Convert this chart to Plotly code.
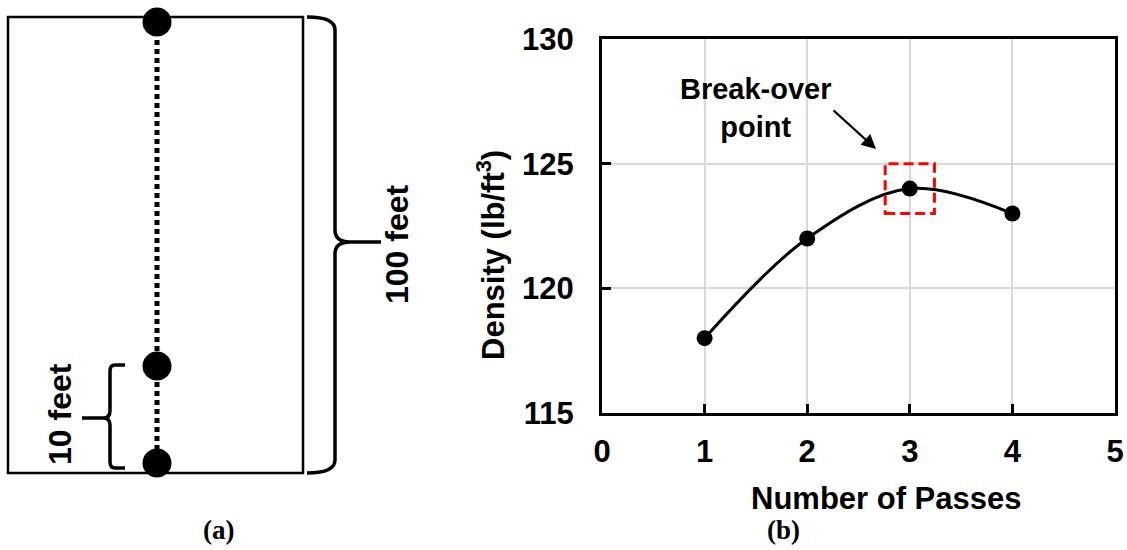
import plotly.graph_objects as go

# ---- Panel (b) data ----
passes = [1, 2, 3, 4]
density = [118, 122, 124, 123]
x_ticks = [0, 1, 2, 3, 4, 5]
y_ticks = [115, 120, 125, 130]
breakover_box_x = [2.76, 3.24]
breakover_box_y = [123, 125]

# ---- Panel (a) schematic (diagram units = canvas pixels) ----
probe_x = [157, 157, 157]
probe_y = [22, 366, 463]
labels_a = ["100 feet", "10 feet"]

W, H = 1127, 550
FONT = "Liberation Sans, Arial, sans-serif"

fig = go.Figure()

# Panel (a): dotted line and probes
fig.add_trace(go.Scatter(
    x=probe_x, y=probe_y, mode="lines",
    line=dict(color="black", width=5, dash="5px,4px"),
    xaxis="x2", yaxis="y2", hoverinfo="skip", showlegend=False))
fig.add_trace(go.Scatter(
    x=probe_x, y=probe_y, mode="markers",
    marker=dict(color="black", size=29),
    xaxis="x2", yaxis="y2", hoverinfo="skip", showlegend=False))

# Panel (b): density curve
fig.add_trace(go.Scatter(
    x=passes, y=density, mode="lines+markers",
    line=dict(color="black", width=3, shape="spline", smoothing=1.0),
    marker=dict(color="black", size=16),
    xaxis="x", yaxis="y", showlegend=False))

x0d, x1d = 602 / W, 1115 / W
y0d, y1d = 1 - 413 / H, 1 - 39 / H

fig.update_layout(
    width=W, height=H,
    margin=dict(l=0, r=0, t=0, b=0, autoexpand=False),
    paper_bgcolor="white", plot_bgcolor="rgba(0,0,0,0)",
    xaxis=dict(
        domain=[x0d, x1d], range=[0, 5], tickvals=x_ticks,
        showgrid=True, gridcolor="#d9d9d9", gridwidth=2,
        showline=True, linecolor="black", linewidth=3, mirror=True,
        ticks="inside", ticklen=9, tickwidth=3, tickcolor="black",
        tickfont=dict(family=FONT, size=31, color="black", weight="bold"),
        ticklabelstandoff=9, zeroline=False, anchor="y", automargin=False),
    yaxis=dict(
        domain=[y0d, y1d], range=[115, 130], tickvals=y_ticks,
        showgrid=True, gridcolor="#d9d9d9", gridwidth=2,
        showline=True, linecolor="black", linewidth=3, mirror=True,
        ticks="inside", ticklen=9, tickwidth=3, tickcolor="black",
        tickfont=dict(family=FONT, size=31, color="black", weight="bold"),
        ticklabelstandoff=19, zeroline=False, anchor="x", automargin=False),
    xaxis2=dict(domain=[0, 1], range=[0, W], visible=False, anchor="y2",
                fixedrange=True, automargin=False),
    yaxis2=dict(domain=[0, 1], range=[H, 0], visible=False, anchor="x2",
                fixedrange=True, automargin=False),
)

# Panel (a) rectangle
fig.add_shape(type="rect", xref="x2", yref="y2", x0=8, x1=303, y0=17, y1=473,
              line=dict(color="black", width=2.5), layer="below")
# Big brace (100 feet)
fig.add_shape(type="path", xref="x2", yref="y2",
              path="M 307 17 Q 335 17 335 30 L 335 230 Q 335 242 350 242 L 381 242 "
                   "M 350 242 Q 335 242 335 254 L 335 460 Q 335 473 307 473",
              line=dict(color="black", width=3.5))
# Small brace (10 feet)
fig.add_shape(type="path", xref="x2", yref="y2",
              path="M 125 365 L 115 365 Q 110 365 110 371 L 110 411 Q 110 418 103 418 L 82 418 "
                   "M 103 418 Q 110 418 110 425 L 110 462 Q 110 468 115 468 L 125 468",
              line=dict(color="black", width=3.5))

annots = [
    dict(x=397, y=244, text=labels_a[0], textangle=-90),
    dict(x=60, y=414, text=labels_a[1], textangle=-90),
]
for a in annots:
    fig.add_annotation(xref="x2", yref="y2", showarrow=False,
                       font=dict(family=FONT, size=32, color="black", weight="bold"), **a)

# Sub-figure labels
for txt, xp in [("(a)", 218), ("(b)", 783)]:
    fig.add_annotation(xref="x2", yref="y2", x=xp, y=530, text=txt, showarrow=False,
                       font=dict(family="Liberation Serif, Times New Roman, serif", size=27,
                                 color="black", weight="bold"))

# Axis titles
fig.add_annotation(xref="x2", yref="y2", x=491, y=255, text="Density (lb/ft<sup>3</sup>)",
                   textangle=-90, showarrow=False,
                   font=dict(family=FONT, size=31, color="black", weight="bold"))
fig.add_annotation(xref="x2", yref="y2", x=886, y=498, text="Number of Passes",
                   showarrow=False,
                   font=dict(family=FONT, size=31, color="black", weight="bold"))

# Break-over annotation
fig.add_annotation(xref="x2", yref="y2", x=756, y=108, text="Break-over<br>point",
                   showarrow=False, align="center",
                   font=dict(family=FONT, size=29, color="black", weight="bold"))
fig.add_annotation(xref="x2", yref="y2", x=876, y=149, ax=832, ay=109,
                   axref="x2", ayref="y2", text="", showarrow=True,
                   arrowhead=2, arrowsize=1.3, arrowwidth=2.2, arrowcolor="black")

# Red dashed break-over box
fig.add_shape(type="rect", xref="x", yref="y",
              x0=breakover_box_x[0], x1=breakover_box_x[1],
              y0=breakover_box_y[0], y1=breakover_box_y[1],
              line=dict(color="#ff0000", width=3, dash="10px,5px"))

fig.write_html("out.html", config={"displayModeBar": False},
               post_script="document.body.style.margin='0';")
